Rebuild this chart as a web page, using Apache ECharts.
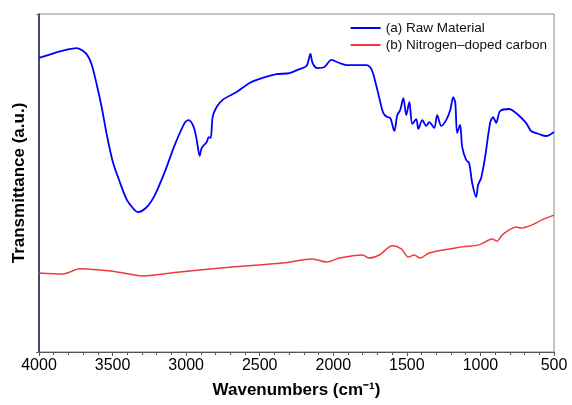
<!DOCTYPE html>
<html>
<head>
<meta charset="utf-8">
<script src="https://cdn.jsdelivr.net/npm/echarts@6/dist/echarts.min.js"></script>
<style>
  html, body { margin: 0; padding: 0; background: #ffffff; }
  #chart { width: 572px; height: 405px; }
</style>
</head>
<body>
<div id="chart"></div>
<script>
  // wavenumbers (cm-1) and transmittance (a.u., 0-100 scale)
  const rawWave = [4000, 3844, 3742, 3702, 3668, 3641, 3607, 3573, 3539, 3498, 3451, 3403, 3362, 3328, 3267, 3213, 3145, 3078, 3010, 2983, 2949, 2928, 2908, 2894, 2860, 2847, 2833, 2820, 2793, 2752, 2657, 2569, 2481, 2386, 2297, 2230, 2182, 2155, 2141, 2108, 2060, 2013, 1958, 1911, 1775, 1741, 1714, 1687, 1660, 1633, 1612, 1585, 1565, 1545, 1524, 1504, 1483, 1463, 1436, 1422, 1395, 1368, 1348, 1314, 1294, 1266, 1233, 1205, 1185, 1171, 1158, 1138, 1124, 1097, 1077, 1056, 1029, 1016, 995, 968, 934, 914, 893, 866, 805, 758, 690, 656, 602, 554, 500]
  const rawT = [87.0, 89.1, 89.9, 89.1, 87.6, 84.9, 79.0, 72.2, 64.2, 56.2, 50.3, 45.0, 42.6, 41.4, 42.9, 46.4, 53.3, 61.2, 67.8, 68.6, 66.6, 62.7, 58.0, 60.4, 62.1, 63.6, 63.3, 69.5, 72.5, 74.6, 76.9, 79.6, 81.1, 82.2, 82.5, 83.7, 84.6, 88.2, 85.5, 84.0, 84.3, 86.4, 85.5, 84.9, 84.9, 83.7, 79.9, 75.1, 70.7, 69.5, 69.2, 65.4, 70.1, 71.6, 75.1, 70.1, 74.0, 67.5, 68.9, 66.0, 68.6, 66.9, 68.0, 66.3, 70.1, 66.9, 68.6, 71.6, 75.4, 73.7, 64.8, 67.2, 60.7, 56.8, 55.9, 50.0, 45.9, 49.4, 51.5, 57.7, 67.8, 69.5, 67.8, 71.3, 71.9, 70.7, 67.8, 65.4, 64.5, 63.9, 65.1]

  const ncWave = [4000, 3837, 3722, 3607, 3471, 3295, 3044, 2704, 2345, 2141, 2046, 1958, 1802, 1755, 1687, 1599, 1538, 1490, 1450, 1409, 1348, 1124, 1009, 920, 887, 853, 758, 724, 649, 581, 500]
  const ncT = [23.4, 23.1, 24.6, 24.3, 23.7, 22.5, 23.7, 25.1, 26.3, 27.5, 26.6, 27.8, 28.7, 27.8, 28.7, 31.4, 30.5, 28.1, 28.7, 27.8, 29.3, 31.1, 31.7, 33.4, 32.8, 34.6, 37.0, 36.7, 37.6, 39.1, 40.5]

  const xTicks = [4000, 3500, 3000, 2500, 2000, 1500, 1000, 500]

  function zip(xs, ys) {
    return xs.map((x, i) => [x, ys[i]])
  }

  let chart = echarts.init(document.getElementById('chart'))
  chart.setOption({
    animation: false,
    backgroundColor: '#ffffff',
    textStyle: { fontFamily: 'Liberation Sans, Arial, sans-serif' },
    grid: {
      left: 39,
      right: 18,
      top: 14,
      bottom: 53,
      show: true,
      borderColor: '#8a8a8a',
      borderWidth: 1,
    },
    legend: {
      orient: 'vertical',
      right: 20,
      top: 16,
      itemWidth: 30,
      itemHeight: 2,
      itemGap: 3,
      icon: 'rect',
      textStyle: { fontSize: 13.5, color: '#111' },
      data: ['(a) Raw Material', '(b) Nitrogen\u2013doped carbon'],
    },
    xAxis: {
      type: 'value',
      inverse: true,
      min: 500,
      max: 4000,
      interval: 500,
      name: 'Wavenumbers (cm\u207B\u00B9)',
      nameLocation: 'middle',
      nameGap: 30,
      nameTextStyle: { fontSize: 17, fontWeight: 'bold', color: '#000' },
      axisLine: { lineStyle: { color: '#555', width: 1 } },
      axisTick: { show: true, inside: false, length: 4, lineStyle: { color: '#555' } },
      minorTick: { show: true, splitNumber: 5, length: 3, lineStyle: { color: '#555' } },
      axisLabel: {
        fontSize: 16,
        color: '#000',
        margin: 6,
        formatter: (v) => (xTicks.indexOf(v) >= 0 ? String(v) : ''),
      },
      splitLine: { show: false },
    },
    yAxis: {
      type: 'value',
      min: 0,
      max: 100,
      interval: 100,
      name: 'Transmittance (a.u.)',
      nameLocation: 'middle',
      nameGap: 11,
      nameTextStyle: { fontSize: 17, fontWeight: 'bold', color: '#000' },
      axisLine: { show: true, lineStyle: { color: '#22224a', width: 1.5 } },
      axisTick: { show: true, inside: false, length: 3, lineStyle: { color: '#777' } },
      axisLabel: { show: false },
      splitLine: { show: false },
    },
    series: [
      {
        name: '(a) Raw Material',
        type: 'line',
        showSymbol: false,
        smooth: 0.3,
        color: '#0000ff',
        lineStyle: { color: '#0000ff', width: 1.8 },
        data: zip(rawWave, rawT),
      },
      {
        name: '(b) Nitrogen\u2013doped carbon',
        type: 'line',
        showSymbol: false,
        smooth: 0.3,
        color: '#f03a3a',
        lineStyle: { color: '#f03a3a', width: 1.5 },
        data: zip(ncWave, ncT),
      },
    ],
  })
</script>
</body>
</html>
